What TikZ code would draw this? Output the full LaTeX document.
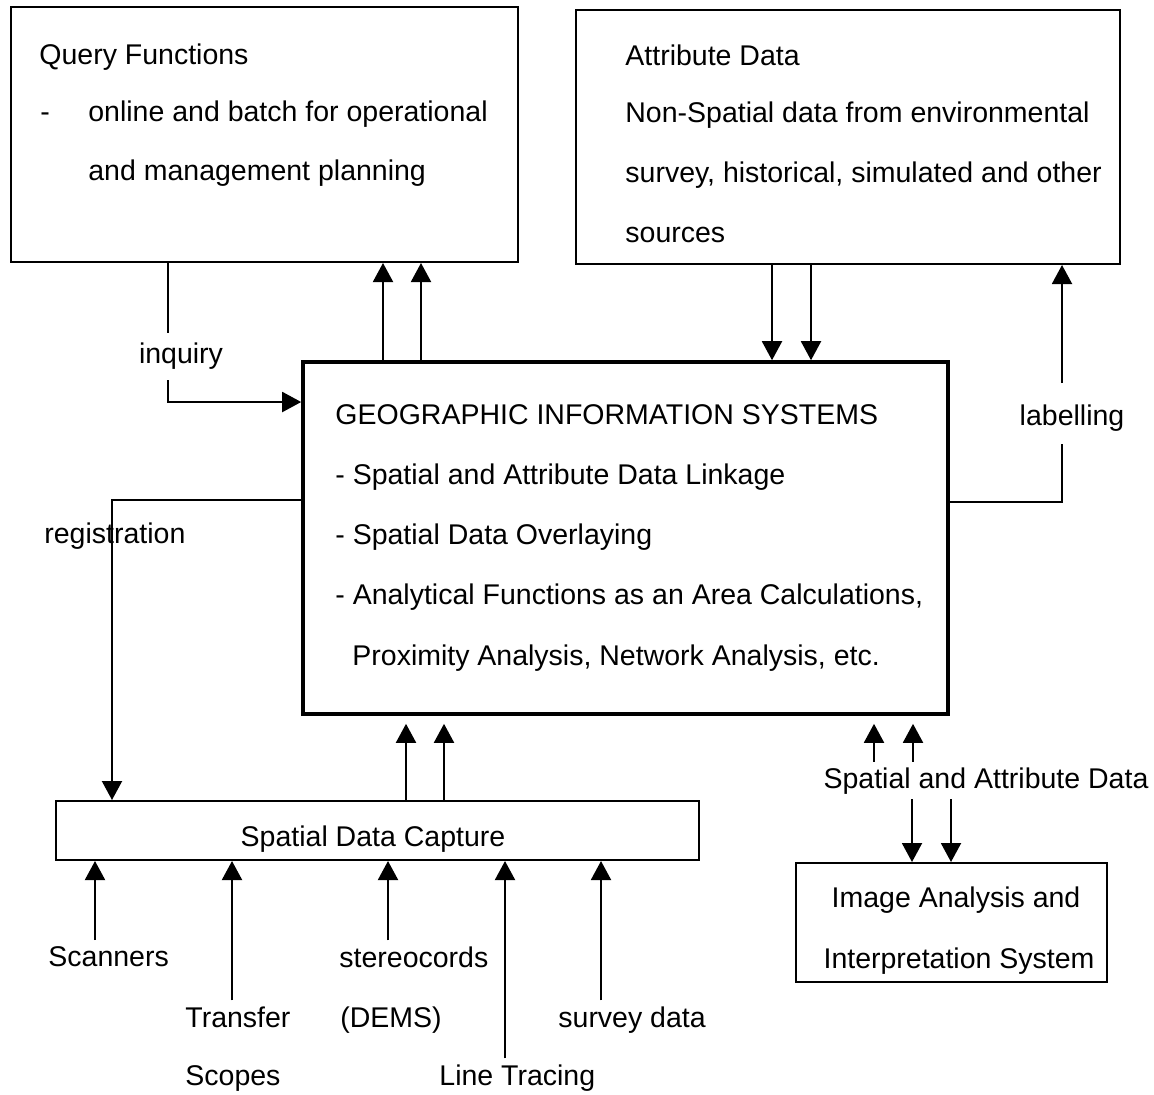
\documentclass[tikz,border=0pt]{standalone}
\usepackage{fontspec}
\setmainfont{Liberation Sans}
\usetikzlibrary{arrows.meta,fit}
\begin{document}
\begin{tikzpicture}[x=0.5pt,y=-0.5pt,
  box/.style={draw, line width=1pt, inner sep=0pt},
  gisbox/.style={draw, line width=1.8pt, inner sep=0pt},
  txt/.style={anchor=base west, inner sep=0pt, font=\fontsize{14.25}{17}\selectfont},
  ctxt/.style={anchor=base, inner sep=0pt, font=\fontsize{14.25}{17}\selectfont},
  arr/.style={line width=1pt, -{Triangle[length=9.5pt,width=10pt]}},
  ln/.style={line width=1pt}]
\useasboundingbox (0,0) rectangle (1154,1094);

% boxes
\node[box, fit={(11,7) (518,262)}] (query) {};
\node[box, fit={(576,10) (1120,264)}] (attr) {};
\node[gisbox, fit={(303,362) (948,714)}] (gis) {};
\node[box, fit={(56,801) (699,860)}] (sdc) {};
\node[box, fit={(796,863) (1107,982)}] (img) {};

% query text
\node[txt] (qtitle) at (39,64) {Query Functions};
\node[txt] (qdash) at (40,121) {-};
\node[txt] (q1) at (88,121) {online and batch for operational};
\node[txt] (q2) at (88,180) {and management planning};

% attribute text
\node[txt] (atitle) at (625,65) {Attribute Data};
\node[txt] (a1) at (625,122) {Non-Spatial data from environmental};
\node[txt] (a2) at (625,182) {survey, historical, simulated and other};
\node[txt] (a3) at (625,242) {sources};

% GIS text
\node[txt] (g0) at (335,424) {GEOGRAPHIC INFORMATION SYSTEMS};
\node[txt] (g1) at (335,484) {- Spatial and Attribute Data Linkage};
\node[txt] (g2) at (335,544) {- Spatial Data Overlaying};
\node[txt] (g3) at (335,604) {- Analytical Functions as an Area Calculations,};
\node[txt] (g4) at (352,665) {Proximity Analysis, Network Analysis, etc.};

% other box texts
\node[ctxt] (sdct) at (373,846) {Spatial Data Capture};
\node[ctxt] (img1) at (956,907) {Image Analysis and};
\node[ctxt] (img2) at (959,968) {Interpretation System};

% labels
\node[ctxt] (inq) at (181,363) {inquiry};
\node[txt] (reg) at (44,543) {registration};
\node[ctxt] (lab) at (1072,425) {labelling};
\node[ctxt, inner sep=2.5pt] (sad) at (986,788) {Spatial and Attribute Data};

\node[txt] (scan) at (48,966) {Scanners};
\node[txt] (trans) at (185,1027) {Transfer};
\node[txt] (scopes) at (185,1085) {Scopes};
\node[txt] (stereo) at (339,967) {stereocords};
\node[txt] (dems) at (340,1027) {(DEMS)};
\node[txt] (survey) at (558,1027) {survey data};
\node[txt] (trace) at (439,1085) {Line Tracing};

% coordinates
\coordinate (qa1) at (383,0); \coordinate (qa2) at (421,0);
\coordinate (ag1) at (772,0); \coordinate (ag2) at (811,0);
\coordinate (sg1) at (406,0); \coordinate (sg2) at (444,0);
\coordinate (su1) at (874,0); \coordinate (su2) at (913,0);
\coordinate (sd1) at (912,0); \coordinate (sd2) at (951,0);
\coordinate (inqA) at (168,333); \coordinate (inqB) at (168,380); \coordinate (inqC) at (168,402);
\coordinate (regA) at (112,500);
\coordinate (labX) at (1062,502); \coordinate (labLo) at (1062,444); \coordinate (labHi) at (1062,383);
\coordinate (b1) at (95,0); \coordinate (b2) at (232,0); \coordinate (b3) at (388,0);
\coordinate (b4) at (505,0); \coordinate (b5) at (601,0);

% GIS -> query
\draw[arr] (gis.north -| qa1) -- (query.south -| qa1);
\draw[arr] (gis.north -| qa2) -- (query.south -| qa2);
% attr -> GIS
\draw[arr] (attr.south -| ag1) -- (gis.north -| ag1);
\draw[arr] (attr.south -| ag2) -- (gis.north -| ag2);
% inquiry
\draw[ln] (query.south -| inqA) -- (inqA);
\draw[arr] (inqB) -- (inqC) -- (gis.west |- inqC);
% registration
\draw[arr] (gis.west |- regA) -| (sdc.north -| regA);
% labelling
\draw[ln] (gis.east |- labX) -- (labX) -- (labLo);
\draw[arr] (labHi) -- (attr.south -| labHi);
% SDC -> GIS
\draw[arr, shorten >=4pt] (sdc.north -| sg1) -- (gis.south -| sg1);
\draw[arr, shorten >=4pt] (sdc.north -| sg2) -- (gis.south -| sg2);
% spatial and attribute data
\draw[arr, shorten >=4pt] (sad.north -| su1) -- (gis.south -| su1);
\draw[arr, shorten >=4pt] (sad.north -| su2) -- (gis.south -| su2);
\draw[arr] (sad.south -| sd1) -- (img.north -| sd1);
\draw[arr] (sad.south -| sd2) -- (img.north -| sd2);
% inputs to SDC
\draw[arr, shorten <=2.8pt] (scan.north -| b1) -- (sdc.south -| b1);
\draw[arr, shorten <=2.8pt] (trans.north -| b2) -- (sdc.south -| b2);
\draw[arr, shorten <=2.8pt] (stereo.north -| b3) -- (sdc.south -| b3);
\draw[arr, shorten <=2.8pt] (trace.north -| b4) -- (sdc.south -| b4);
\draw[arr, shorten <=2.8pt] (survey.north -| b5) -- (sdc.south -| b5);
\end{tikzpicture}
\end{document}
